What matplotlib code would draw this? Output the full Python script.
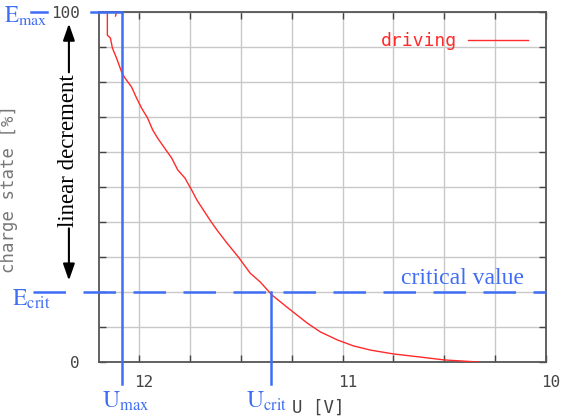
import numpy as np
import matplotlib.pyplot as plt
from matplotlib.transforms import ScaledTranslation

plt.rcParams['mathtext.fontset'] = 'stix'

# discharge curve: voltage U [V], charge state [%]
u_volt = [12.116, 12.111, 12.156, 12.156, 12.141, 12.131, 12.111, 12.086,
          12.072, 12.037, 12.012, 11.988, 11.958, 11.933, 11.909, 11.874,
          11.840, 11.810, 11.775, 11.741, 11.716, 11.652, 11.617, 11.568,
          11.512, 11.454, 11.405, 11.346, 11.267, 11.173, 11.109, 11.025,
          10.946, 10.862, 10.749, 10.615, 10.501, 10.333]
charge = [98.9, 100, 100, 93.4, 92.6, 89.7, 86.9, 82.9,
          81.4, 78.6, 75.4, 72.6, 69.7, 66.3, 64.0, 61.1,
          58.3, 54.9, 52.6, 49.1, 46.3, 40.6, 37.7, 34.0,
          30.0, 25.4, 22.9, 19.1, 15.4, 11.1, 8.6, 6.3,
          4.6, 3.4, 2.3, 1.4, 0.6, 0]

u_max = 12.086
u_crit = 11.351
e_max = 100
e_crit = 20

x_ticks = [12.0, 11.0, 10.0]
y_ticks = [0, 100]

blue = '#3f6ef5'
red = '#ff2a2a'
grey = '#444444'
mono = 'DejaVu Sans Mono'
serif = ['Liberation Serif', 'DejaVu Serif']

fig = plt.figure(figsize=(5.74, 4.19), dpi=100)
ax = fig.add_axes([0.1725, 0.136, 0.7787, 0.835])

ax.plot(u_volt, charge, color=red, lw=1.0, label='driving', zorder=4)

ax.set_xlim(12.197, 10.0)
ax.set_ylim(0, 100)

# grid every 0.25 V and 10 %
xg = np.arange(10.0, 12.2, 0.25)
yg = np.arange(0, 101, 10)
ax.set_xticks(xg)
ax.set_xticklabels(['%d' % v if v in x_ticks else '' for v in xg])
ax.set_yticks(yg)
ax.set_yticklabels(['%d' % v if v in y_ticks else '' for v in yg])
ax.grid(True, color='#c8c8c8', lw=1.0)
ax.tick_params(direction='in', length=5, width=1, colors=grey,
               top=True, right=True, labelsize=11.5)
ax.tick_params(axis='x', pad=9)
ax.tick_params(axis='y', pad=14)
shift = ScaledTranslation(0.05, 0, fig.dpi_scale_trans)
for lab in ax.get_xticklabels():
    lab.set_fontfamily(mono)
    lab.set_transform(lab.get_transform() + shift)
for lab in ax.get_yticklabels():
    lab.set_fontfamily(mono)
for s in ax.spines.values():
    s.set_color('#555555')
    s.set_linewidth(1.3)

ax.set_ylabel('charge state [%]', fontfamily=mono, fontsize=12.5, color='#777777')
ax.yaxis.set_label_coords(-0.181, 0.494)
ax.text(0.432, -0.131, 'U [V]', transform=ax.transAxes, fontfamily=mono,
        fontsize=12.5, color=grey, ha='left', va='center')

ax.legend(loc='upper right', frameon=False, markerfirst=False,
          handlelength=3.3, handletextpad=0.6, labelcolor=red,
          prop={'family': mono, 'size': 13},
          bbox_to_anchor=(0.995, 0.99))

# blue annotation lines
ax.plot([u_max, u_max], [e_max, -6.3], color=blue, lw=1.8, clip_on=False, zorder=5)
ax.plot([u_crit, u_crit], [e_crit, -6.3], color=blue, lw=1.8, clip_on=False, zorder=5)
ax.plot([12.236, u_max], [e_max, e_max], color=blue, lw=1.8, clip_on=False, zorder=5)
ax.plot([12.53, 12.455], [e_max, e_max], color=blue, lw=1.8, clip_on=False, zorder=5)
ax.plot([12.52, 10.0], [e_crit, e_crit], color=blue, lw=1.8, clip_on=False,
        dashes=(13, 7), zorder=5)

ax.text(12.665, e_max - 1.2, r'$\mathrm{E_{max}}$', color=blue, fontsize=16.5,
        ha='left', va='center')
ax.text(12.625, e_crit - 2.0, r'$\mathrm{E_{crit}}$', color=blue, fontsize=17,
        ha='left', va='center')
ax.text(u_max - 0.02, -11.2, r'$\mathrm{U_{max}}$', color=blue, fontsize=17,
        ha='center', va='center')
ax.text(u_crit + 0.02, -11.2, r'$\mathrm{U_{crit}}$', color=blue, fontsize=17,
        ha='center', va='center')
ax.text(10.409, 23.8, 'critical value', color=blue, fontsize=17,
        fontfamily=serif, ha='center', va='center')

# linear decrement with arrows
xa = 12.345
ax.annotate('', xy=(xa, 97.5), xytext=(xa, 82), annotation_clip=False,
            arrowprops=dict(arrowstyle='-|>,head_width=0.35,head_length=1.0',
                            color='black', lw=1.5))
ax.annotate('', xy=(xa, 22.5), xytext=(xa, 39), annotation_clip=False,
            arrowprops=dict(arrowstyle='-|>,head_width=0.35,head_length=1.0',
                            color='black', lw=1.5))
ax.text(xa, 60.5, 'linear decrement', rotation=90, fontsize=16.5,
        fontfamily=serif, ha='center', va='center', color='black')

fig.savefig('out.png', dpi=100)
